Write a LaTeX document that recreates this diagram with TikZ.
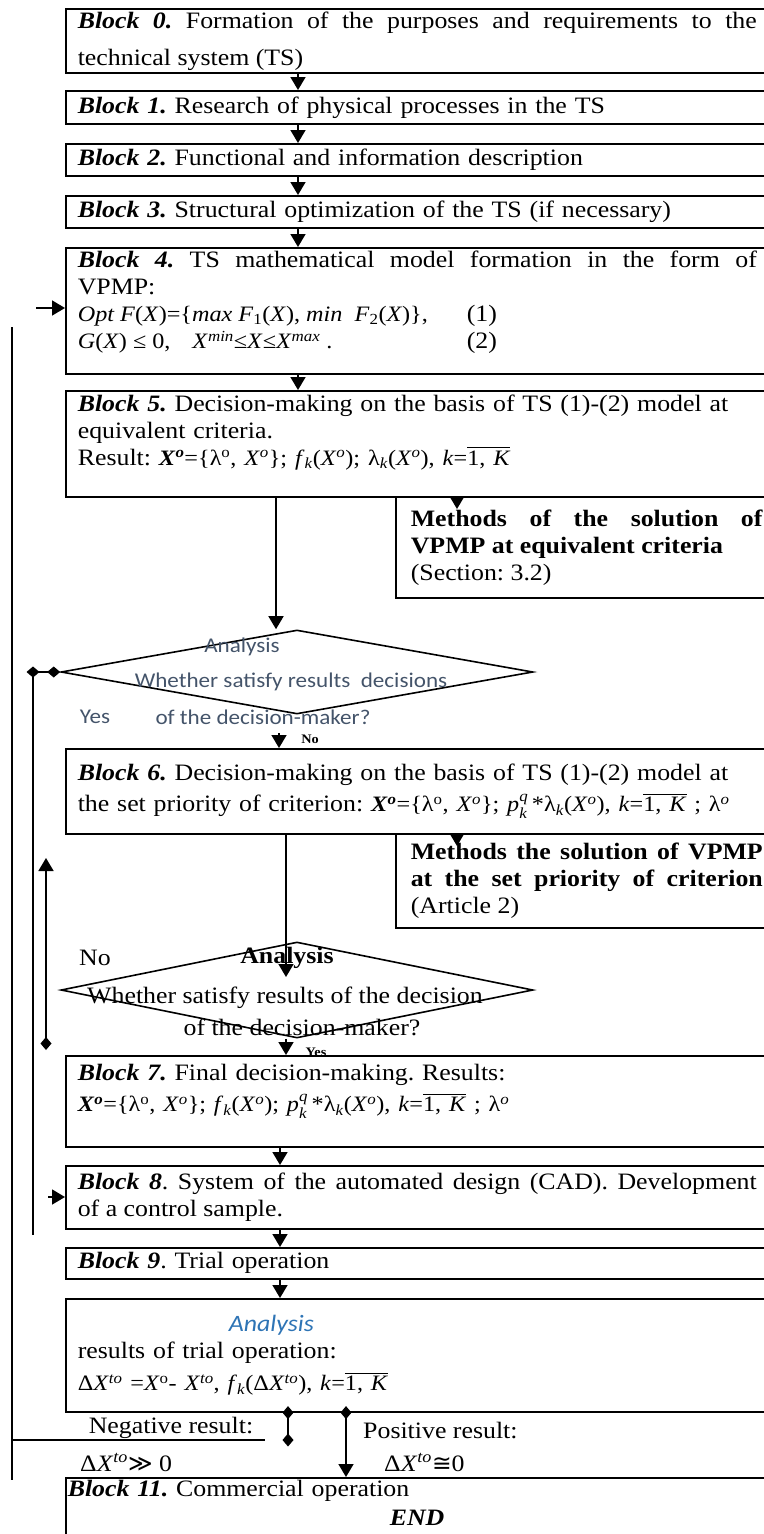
\documentclass[tikz,border=0pt]{standalone}
\usepackage{amsmath}
\usepackage{fontspec}
\setmainfont[FakeStretch=1.10]{Liberation Serif}
\newfontfamily\calfont[FakeStretch=1.1]{Carlito}
\newfontfamily\dvsym{DejaVu Sans}
\usepackage{xcolor}
\usetikzlibrary{
arrows.meta,
shapes.geometric
}
\definecolor{vpgray}{HTML}{44546A}
\definecolor{vpblue}{HTML}{2E74B5}

\newcommand{\mainsize}{\fontsize{23.5}{27}\selectfont\frenchspacing}
\newcommand{\fsize}{\fontsize{22}{27}\selectfont}
\newcommand{\bi}[1]{\textbf{\textit{#1}}}
\newcommand{\Xo}{\textit{X}\textsuperscript{\textit{o}}}
\newcommand{\bXo}{\textbf{\textit{X}}\textsuperscript{\textbf{\textit{o}}}}
\newcommand{\lamo}{λ\textsuperscript{o}}
\newcommand{\oneK}{$\overline{\text{1, \textit{K}}}$}
\newcommand{\pkq}{$\text{\textit{p}}^{\text{\textit{q}}}_{\text{\textit{k}}}$}
\newcommand{\padb}[1]{\\[#1]\mbox{}}

\begin{document}
\begin{tikzpicture}[
  x=1pt, y=-1pt,
  >={Triangle[width=15pt,length=13pt]},
  blk/.style={draw, line width=1.6pt, anchor=north west, text width=679pt,
    inner xsep=12pt, inner ysep=2pt, align=left, font=\mainsize},
  jblk/.style={blk, align=justify},
  meth/.style={blk, text width=352pt, inner xsep=15pt, align=justify},
  dec/.style={draw, diamond, line width=1.6pt, minimum width=472pt, inner sep=0pt},
  arr/.style={line width=1.6pt, ->},
  conn/.style={line width=1.6pt},
  dm/.style={line width=1.6pt,
    {Diamond[width=11pt,length=13pt]}-{Diamond[width=11pt,length=13pt]}},
  dmarr/.style={line width=1.6pt,
    {Diamond[width=11pt,length=13pt]}-{Triangle[width=15pt,length=13pt]}},
  lbl/.style={font=\mainsize, inner sep=0pt},
  tiny/.style={font=\fontsize{13}{13}\selectfont\bfseries, inner sep=0pt},
  dtxt/.style={font=\calfont\fontsize{21}{24}\selectfont, text=vpgray, inner sep=0pt}
]
\useasboundingbox (0,0) rectangle (763,1534);

%% ── MAIN BLOCKS ─────────────────────────────────────────────
\node[jblk, minimum height=64pt, font=\fontsize{23.5}{37}\selectfont\frenchspacing] (block0) at (65,8)
  {\bi{Block 0.} Formation of the purposes and requirements to the\linebreak
   technical system (TS)};
\node[blk, minimum height=33pt] (block1) at (65,90)
  {\bi{Block 1.} Research of physical processes in the TS};
\node[blk, minimum height=32pt] (block2) at (65,143)
  {\bi{Block 2.} Functional and information description};
\node[blk, minimum height=32pt] (block3) at (65,195)
  {\bi{Block 3.} Structural optimization of the TS (if necessary)};
\node[jblk, minimum height=126pt] (block4) at (65,247)
  {\bi{Block 4.} TS mathematical model formation in the form of\linebreak
   VPMP:\\
   \makebox[389pt][l]{\fsize\textit{Opt F}(\textit{X})=\{\textit{max F}\textsubscript{1}(\textit{X}),
     \textit{min}\ \ \textit{F}\textsubscript{2}(\textit{X})\},}(1)\\
   \makebox[389pt][l]{\fsize\textit{G}(\textit{X}) ≤ 0,\quad
     \textit{X}\textsuperscript{\textit{min}}≤\textit{X}≤\textit{X}\textsuperscript{\textit{max}} .}(2)%
   \padb{-5pt}};
\node[blk, minimum height=106pt] (block5) at (65,390)
  {\bi{Block 5.} Decision-making on the basis of TS (1)-(2) model at\\
   equivalent criteria.\\
   Result: {\fsize\bXo=\{\lamo, \Xo\}; \textit{f}\textsubscript{\textit{k}}(\Xo);
   λ\textsubscript{\textit{k}}(\Xo), \textit{k}=\oneK}\padb{1pt}};

%% Methods for block 5
\node[meth, minimum height=101pt] (methA) at (395,496)
  {\textbf{Methods of the solution of}\linebreak
   \textbf{VPMP at equivalent criteria}\\
   (Section: 3.2)};

%% ── FIRST ANALYSIS ──────────────────────────────────────────
\node[dec, minimum height=84pt] (dec1) at (297,672) {};
\node[dtxt] (dec1a) at (242,647) {Analysis};
\node[dtxt] (dec1b) at (291,682) {Whether satisfy results\ \ decisions};
\node[dtxt] (dec1y) at (95,717) {Yes};
\node[dtxt] (dec1c) at (263,717) {of the decision-maker?};

\node[blk, minimum height=85pt] (block6) at (65,748)
  {\bi{Block 6.} Decision-making on the basis of TS (1)-(2) model at\\[4pt]
   \mbox{the set priority of criterion: {\fsize\bXo=\{\lamo, \Xo\}; \pkq\,*λ\textsubscript{\textit{k}}(\Xo),
   \textit{k}=\oneK\ ; λ\textsuperscript{\textit{o}}}}};

%% Methods for block 6
\node[meth, minimum height=94pt] (methB) at (395,833)
  {\textbf{Methods the solution of VPMP}\linebreak
   \textbf{at the set priority of criterion}\linebreak
   (Article 2)};

%% ── SECOND ANALYSIS ─────────────────────────────────────────
\node[dec, minimum height=96pt] (dec2) at (297,990) {};
\node[lbl] (dec2n) at (95,958) {No};
\node[lbl, font=\mainsize\bfseries] (dec2a) at (287,958) {Analysis};
\node[lbl] (dec2b) at (285,998) {Whether satisfy results of the decision};
\node[lbl] (dec2c) at (302,1027) {of the decision-maker?};

\node[blk, minimum height=91pt] (block7) at (65,1055)
  {\bi{Block 7.} Final decision-making. Results:\\[4pt]
   {\fsize\bXo=\{\lamo, \Xo\}; \textit{f}\textsubscript{\textit{k}}(\Xo);
   \pkq\,*λ\textsubscript{\textit{k}}(\Xo), \textit{k}=\oneK\ ; λ\textsuperscript{\textit{o}}}%
   \padb{-1pt}};
\node[jblk, minimum height=63pt] (block8) at (65,1165)
  {\bi{Block 8}. System of the automated design (CAD). Development\linebreak
   of a control sample.};
\node[blk, minimum height=31pt] (block9) at (65,1247)
  {\bi{Block 9}. Trial operation};
\node[blk, minimum height=113pt] (block10) at (65,1298)
  {\hspace*{151pt}{\calfont\itshape\color{vpblue}Analysis}\\
   results of trial operation:\\[5pt]
   {\fsize Δ\textit{X}\textsuperscript{\textit{to}} =\textit{X}\textsuperscript{o}-
   \textit{X}\textsuperscript{\textit{to}},\
   \textit{f}\textsubscript{\textit{k}}(Δ\textit{X}\textsuperscript{\textit{to}}),
   \textit{k}=\oneK}};

%% Result labels
\node[lbl] (neg) at (171,1428) {Negative result:};
\node[lbl, anchor=west] (negv) at (80,1462)
  {Δ\textit{X}\textsuperscript{\textit{to}}{\dvsym ≫} 0};
\node[lbl, anchor=west] (pos) at (363,1430) {Positive result:};
\node[lbl, anchor=west] (posv) at (384,1462)
  {Δ\textit{X}\textsuperscript{\textit{to}}{\dvsym ≅}0};

\node[blk, minimum height=70pt, inner xsep=2pt, text width=701pt] (block11) at (65,1477)
  {\bi{Block 11.} Commercial operation\\[2pt]
   \hspace*{322pt}\bi{END}\padb{-5pt}};

%% ── CONNECTORS ──────────────────────────────────────────────
\coordinate (ax) at (298,0);
\foreach \a/\b in {block0/block1, block1/block2, block2/block3,
                   block3/block4, block4/block5}
  \draw[arr] (\a.south -| ax) -- (\b.north -| ax);

\coordinate (bx) at (280,0);
\foreach \a/\b in {block7/block8, block8/block9, block9/block10}
  \draw[arr] (\a.south -| bx) -- (\b.north -| bx);

%% block 5 to analysis and methods
\coordinate (a5) at (276,0);
\draw[arr] (block5.south -| a5) -- (a5 |- dec1.north);
\coordinate (am) at (457,509);
\draw[arr] (am |- block5.south) -- (am);

%% analysis 1 to block 6
\coordinate (d1o) at (279,733);
\draw[arr] (d1o) -- (d1o |- block6.north);
\node[tiny] (no1) at (310,739) {No};

%% block 6 to analysis and methods
\coordinate (a6) at (286,977);
\draw[arr] (a6 |- block6.south) -- (a6);
\coordinate (bm) at (457,846);
\draw[arr] (bm |- block6.south) -- (bm);

%% analysis 2 to block 7
\coordinate (a7) at (286,0);
\draw[arr] (a7 |- dec2.south) -- (a7 |- block7.north);
\node[tiny] (yes2) at (316,1052) {Yes};

%% feedback lines on the left
\coordinate (fbA) at (36,308);
\draw[arr] (fbA) -- (fbA -| block4.west);
\coordinate (outTop) at (12,327);
\coordinate (outBot) at (12,1480);
\draw[conn] (outTop) -- (outBot);
\coordinate (negL) at (12,1440);
\coordinate (negR) at (265,1440);
\draw[conn] (negL) -- (negR);

\coordinate (inA) at (33,672);
\coordinate (inB) at (33,1235);
\draw[dm] (dec1.west) -- ([xshift=-6.5pt]inA);
\draw[conn] (inA) -- (inB);
\coordinate (in8) at (48,1197);
\draw[arr] (in8) -- (in8 -| block8.west);

\coordinate (upA) at (46,1050);
\coordinate (upB) at (46,858);
\draw[dmarr] (upA) -- (upB);

%% results of trial operation
\coordinate (nm) at (288,1440);
\draw[dm] ([yshift=6.5pt]nm |- block10.south) -- ([yshift=-6.5pt]nm);
\coordinate (pm) at (346,0);
\draw[dmarr] ([yshift=6.5pt]pm |- block10.south) -- (pm |- block11.north);

\end{tikzpicture}
\end{document}
